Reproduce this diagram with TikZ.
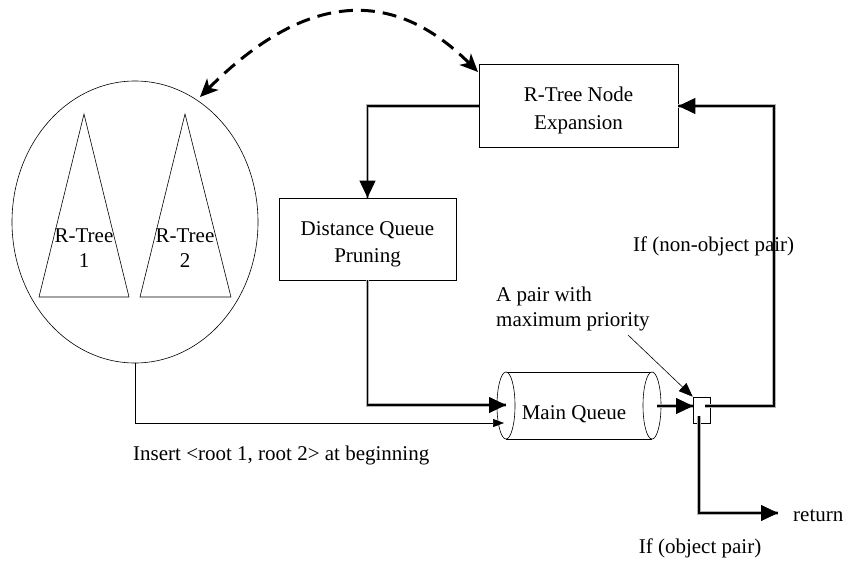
\documentclass[tikz,border=0pt]{standalone}
\usepackage{fontspec}
\setmainfont{Liberation Serif}
\usetikzlibrary{arrows.meta,shapes.geometric,calc}
\begin{document}
\begin{tikzpicture}[x=1pt,y=-1pt,
  every node/.style={font=\fontsize{21}{27}\selectfont, inner sep=0pt},
  box/.style={draw, rectangle, line width=0.7pt, align=center},
  dbl/.style={draw=gray!60, double=black, double distance=1.1pt, line width=1.1pt},
  bigtip/.style={-{Triangle[length=17pt,width=16pt]}, line width=0.8pt},
  smalltip/.style={-{Triangle[length=11pt,width=8pt]}, line width=0.6pt},
  thinline/.style={line width=0.6pt}]
\useasboundingbox (0,0) rectangle (845,565);

% ellipse with two R-trees
\node[draw, ellipse, line width=0.6pt, minimum width=246pt, minimum height=282pt] (ell) at (135,222) {};
\draw[thinline] (84,114) -- (129,297) -- (39,297) -- cycle;
\draw[thinline] (185,114) -- (231,297) -- (140,297) -- cycle;
\node[align=center, anchor=base, font=\fontsize{21}{25}\selectfont] (rt1) at (84,267.3) {R-Tree\\1};
\node[align=center, anchor=base, font=\fontsize{21}{25}\selectfont] (rt2) at (185,267.3) {R-Tree\\2};

% boxes
\node[box, minimum width=199pt, minimum height=83pt] (exp) at (578.5,105.5) {};
\node[anchor=base, align=center, font=\fontsize{21}{28}\selectfont] (explbl) at (578.5,129) {R-Tree Node\\Expansion};
\node[box, minimum width=177pt, minimum height=82pt] (dist) at (367.5,239) {};
\node[anchor=base, align=center] (distlbl) at (367.5,262) {Distance Queue\\Pruning};

% main queue cylinder
\node[minimum width=164pt, minimum height=67pt] (mq) at (579,405.5) {};
\draw[thinline] (506,372) -- (652,372);
\draw[thinline] (506,439) -- (652,439);
\draw[thinline, fill=white] (506,405.5) ellipse (9 and 33.5);
\draw[thinline, fill=white] (652,405.5) ellipse (9 and 33.5);
\node[anchor=base] (mqlbl) at (574,419) {Main Queue};

% small square
\node[draw, rectangle, line width=0.6pt, minimum width=17pt, minimum height=26pt] (sq) at (701.5,410) {};

% coordinates
\coordinate (mqin) at (506,405);
\coordinate (mqin2) at (504,423);
\coordinate (mqout) at (657,406);
\coordinate (sqin) at (693,406);
\coordinate (sqout) at (705,406);
\coordinate (rc) at (774,106);
\coordinate (sqdown) at (699,416);
\coordinate (ret) at (778,513);
\coordinate (ptr) at (628,335);
\coordinate (dl) at (200,97);
\coordinate (dr) at (478,72);

% connectors
\draw[dbl] (exp.west |- 0,106) -| (dist.north);
\draw[bigtip] ($(dist.north)+(0,-18)$) -- (dist.north);

\draw[dbl] (dist.south) |- (mqin);
\draw[bigtip] ($(mqin)+(-18,0)$) -- (mqin);

\draw[thinline, smalltip] (ell.south) |- (mqin2);

\draw[dbl] (mqout) -- (sqin);
\draw[bigtip] ($(sqin)+(-18,0)$) -- (sqin);

\draw[dbl] (sqout) -| (rc) -- (exp.east |- rc);
\draw[bigtip] ($(exp.east |- rc)+(18,0)$) -- (exp.east |- rc);

\draw[dbl] (sqdown) |- (ret);
\draw[bigtip] ($(ret)+(-18,0)$) -- (ret);

\draw[thinline, -{Triangle[length=14pt,width=11pt]}] (ptr) -- (sq.north west);

\draw[line width=3pt, dash pattern=on 14pt off 8pt,
  {Stealth[length=18pt,width=16pt,inset=5pt]}-{Stealth[length=18pt,width=16pt,inset=5pt]}]
  (dl) .. controls (306,-9) and (393,-13) .. (dr);

% labels
\node[anchor=base west] (ins) at (133,460.7) {Insert <root 1, root 2> at beginning};
\node[anchor=base west] (nonobj) at (633,251.7) {If (non-object pair)};
\node[anchor=base west, align=left, font=\fontsize{21}{25}\selectfont] (apair) at (496,326.7) {A pair with\\maximum priority};
\node[anchor=base west] (retlbl) at (793,521.5) {return};
\node[anchor=base] (objlbl) at (700,553) {If (object pair)};
\end{tikzpicture}
\end{document}
